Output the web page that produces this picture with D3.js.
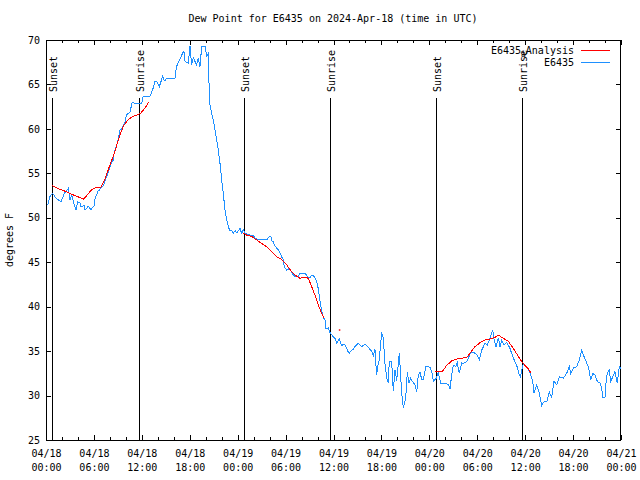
<!DOCTYPE html>
<html>
<head>
<meta charset="utf-8">
<script src="https://cdn.jsdelivr.net/npm/d3@7"></script>
<style>
  html, body { margin: 0; padding: 0; background: #fff; }
  svg { display: block; }
  text { font-family: "DejaVu Sans Mono", "Liberation Mono", monospace; font-size: 10px; fill: #000; }
</style>
</head>
<body>
<svg id="chart" width="640" height="480"></svg>
<script>
// ---------- DATA ----------
const titleText = "Dew Point for E6435 on 2024-Apr-18 (time in UTC)";
const yLabel = "degrees F";
const yTicks = [25, 30, 35, 40, 45, 50, 55, 60, 65, 70];
const xMajorHours = [0, 6, 12, 18, 24, 30, 36, 42, 48, 54, 60, 66, 72];
const xMinorHours = d3.range(0, 73, 2);

// observed series (hours since 2024-04-18 00:00 UTC, degrees F)
const obsHours = [0.21,0.50,0.84,1.25,1.88,2.29,2.59,2.79,3.01,3.22,3.54,3.76,3.97,4.26,4.38,4.80,4.88,5.01,5.30,5.42,5.60,6.05,6.14,6.26,6.55,6.67,6.97,7.10,7.39,7.73,8.14,8.43,8.55,8.85,8.98,9.27,9.39,9.80,9.89,10.10,10.52,10.77,10.86,11.36,11.98,12.18,13.02,13.36,13.65,13.86,14.06,14.19,14.61,14.78,14.90,15.11,16.15,16.34,16.78,17.19,17.28,17.41,17.82,18.03,18.24,18.44,18.87,19.07,19.28,19.50,19.91,20.12,20.32,20.47,20.75,20.95,21.16,21.37,21.58,21.79,22.00,22.20,22.41,22.63,22.83,23.04,23.25,23.45,23.67,23.88,24.29,24.50,24.71,24.92,25.13,25.55,25.96,26.17,26.38,27.21,27.63,27.96,28.14,28.26,28.46,28.68,29.09,29.52,29.72,29.84,30.14,30.47,30.77,30.97,31.18,31.59,31.80,32.43,32.64,32.85,33.06,33.27,33.47,33.68,33.90,34.10,34.31,34.52,34.72,34.94,35.06,35.35,35.56,35.98,36.18,36.39,36.72,37.02,37.31,37.43,37.85,37.97,38.27,38.47,38.69,39.10,39.53,39.94,40.36,40.78,40.98,41.19,41.40,41.60,41.73,42.03,42.23,42.45,42.66,42.86,42.98,43.28,43.49,43.70,43.91,44.24,44.54,44.74,44.95,45.08,45.24,45.45,45.67,45.87,46.21,46.42,46.62,46.83,47.04,47.24,47.58,48.08,48.30,48.50,48.84,49.12,49.42,49.96,50.38,50.59,50.80,51.00,51.34,51.50,51.75,52.05,52.25,52.68,52.88,53.13,53.47,53.93,54.26,54.56,54.97,55.26,55.60,55.94,56.10,56.35,56.64,56.85,57.06,57.35,57.69,58.10,58.44,58.73,59.01,59.27,59.42,59.57,59.77,60.15,60.40,60.61,60.94,61.11,61.44,61.77,62.07,62.36,62.70,63.02,63.32,63.61,63.95,64.27,64.77,65.20,65.52,65.70,66.03,66.45,66.78,67.08,67.37,67.62,67.91,68.21,68.46,68.75,69.03,69.37,69.58,69.71,70.00,70.12,70.28,70.54,70.71,70.96,71.25,71.54,71.79,72.0];
const obsValues = [51.4,52.4,52.75,52.2,51.8,52.75,53.1,53.3,52.0,52.6,51.4,50.9,51.8,51.7,51.25,51.4,50.9,50.95,51.3,51.2,50.9,51.4,52.2,52.4,53.1,53.1,53.5,53.5,54.1,55.0,56.1,56.5,57.4,58.2,58.55,59.9,59.9,60.6,60.8,61.6,61.9,62.9,62.95,62.8,62.9,63.7,63.7,64.4,65.4,65.3,65.0,64.75,65.9,65.5,65.4,65.7,65.7,67.0,67.9,68.65,68.7,67.6,67.4,69.3,67.2,68.0,67.2,68.0,67.0,69.3,69.3,68.2,68.5,63.0,61.75,61.0,59.9,58.75,57.6,56.1,54.25,52.75,50.9,49.75,49.0,48.5,48.6,48.25,48.55,48.3,48.8,48.25,48.7,48.3,48.2,48.05,48.05,47.7,47.6,47.6,47.5,47.9,47.95,47.4,47.3,46.8,46.4,45.6,45.25,44.5,44.1,44.3,43.9,43.55,43.4,43.4,43.75,43.75,43.55,43.2,43.3,43.55,43.55,43.2,42.8,42.0,40.6,39.6,38.8,38.5,37.5,37.6,37.1,36.6,36.45,35.9,36.4,35.6,35.8,35.7,34.9,34.75,35.1,35.2,35.5,35.9,35.5,35.8,35.4,35.0,34.5,35.2,32.3,33.6,34.0,37.1,36.5,33.5,32.0,31.4,33.85,33.85,30.5,32.9,31.7,34.75,30.25,28.6,29.3,30.25,32.6,31.4,31.95,31.6,31.2,30.4,32.3,32.6,31.85,31.85,33.25,33.2,32.7,31.6,31.9,32.6,31.4,31.4,31.2,30.8,32.3,33.4,33.3,33.7,32.5,33.7,33.6,33.8,34.2,34.75,34.9,34.6,34.0,35.1,35.9,35.7,36.45,37.4,36.4,35.5,36.5,35.5,36.25,35.7,36.0,35.3,34.4,33.8,33.2,32.3,32.1,32.9,33.6,33.25,32.9,32.5,31.6,30.25,31.2,30.25,28.9,29.3,29.3,30.4,29.8,31.6,31.2,32.1,31.95,32.5,33.25,32.5,33.1,33.25,34.0,35.1,34.4,33.85,33.25,31.75,32.5,32.3,31.6,31.4,30.8,29.8,29.8,31.4,32.5,32.9,31.6,32.1,32.7,31.4,33.25,33.0];

// analysis series (null = gap)
const anaHours = [0.79,1.47,2.50,3.34,4.17,4.67,5.01,5.64,6.26,6.89,7.18,7.43,7.93,8.55,9.18,9.68,10.23,10.86,11.48,11.90,12.52,12.84,
  null,
  24.71,25.13,25.76,26.38,27.01,27.63,28.26,28.89,29.52,30.14,30.77,31.18,31.80,32.43,32.85,33.27,33.68,34.10,34.52,34.81,
  null,
  48.71,49.65,50.18,50.80,51.43,52.05,52.68,53.09,53.72,54.35,54.97,55.60,56.22,56.64,57.26,57.89,58.52,59.01,59.57,59.98,60.48,60.73];
const anaValues = [53.6,53.3,52.95,52.6,52.3,52.1,52.4,53.1,53.4,53.45,54.0,54.45,55.75,57.25,59.1,60.3,61.0,61.4,61.6,61.8,62.5,63.05,
  null,
  48.3,48.05,47.9,47.5,47.1,46.75,46.2,45.6,45.3,44.7,43.9,43.55,43.2,43.3,43.2,42.25,41.3,40.2,39.25,38.7,
  null,
  32.75,32.75,33.4,33.9,34.1,34.2,34.3,34.75,35.5,35.95,36.25,36.35,36.55,36.8,36.45,36.1,35.3,34.6,33.8,33.4,32.9,32.5];
const anaDotHours = [36.73];
const anaDotValues = [37.4];

const sunLabels = ["Sunset", "Sunrise", "Sunset", "Sunrise", "Sunset", "Sunrise"];
const sunHours = [0.79, 11.68, 24.82, 35.58, 48.85, 59.6];

const legendNames = ["E6435", "E6435"];
const legendColors = ["#ff0000", "#1e90ff"];

// ---------- CHART ----------
const start = Date.UTC(2024, 3, 18, 0, 0);
const H = 3600 * 1000;
const toDate = h => new Date(start + h * H);

const svg = d3.select("#chart");
const L = 46, R = 621, T = 40, B = 440;

const x = d3.scaleUtc().domain([toDate(0), toDate(72)]).range([L, R]);
const y = d3.scaleLinear().domain([25, 70]).range([B, T]);

// title
svg.append("text").attr("x", 333).attr("y", 22).attr("text-anchor", "middle").text(titleText);

// y label
svg.append("text")
  .attr("transform", "translate(13,240) rotate(-90)")
  .attr("text-anchor", "middle").text(yLabel);

// bottom axis: minor ticks
svg.append("g").attr("transform", `translate(0,${B})`)
  .call(d3.axisBottom(x).tickValues(xMinorHours.map(toDate)).tickSizeInner(-3).tickSizeOuter(0).tickFormat(""))
  .call(g => g.select(".domain").remove());
// top axis: minor ticks
svg.append("g").attr("transform", `translate(0,${T})`)
  .call(d3.axisTop(x).tickValues(xMinorHours.map(toDate)).tickSizeInner(-3).tickSizeOuter(0).tickFormat(""))
  .call(g => g.select(".domain").remove());
// top major
svg.append("g").attr("transform", `translate(0,${T})`)
  .call(d3.axisTop(x).tickValues(xMajorHours.map(toDate)).tickSizeInner(-5).tickSizeOuter(0).tickFormat(""))
  .call(g => g.select(".domain").remove());

// bottom major with two-line labels
const f1 = d3.utcFormat("%m/%d"), f2 = d3.utcFormat("%H:%M");
const gxb = svg.append("g").attr("transform", `translate(0,${B})`)
  .call(d3.axisBottom(x).tickValues(xMajorHours.map(toDate)).tickSizeInner(-5).tickSizeOuter(0).tickPadding(10).tickFormat(f1))
  .call(g => g.select(".domain").remove());
gxb.selectAll(".tick text").each(function(d) {
  const t = d3.select(this);
  t.text(null);
  t.append("tspan").attr("x", 0).text(f1(d));
  t.append("tspan").attr("x", 0).attr("dy", 14).text(f2(d));
});
gxb.selectAll("text").style("font-family", "DejaVu Sans Mono").style("font-size", "10px");

// y axes
const gyl = svg.append("g").attr("transform", `translate(${L},0)`)
  .call(d3.axisLeft(y).tickValues(yTicks).tickSizeInner(-5).tickSizeOuter(0).tickPadding(6).tickFormat(d3.format("d")))
  .call(g => g.select(".domain").remove());
gyl.selectAll("text").style("font-family", "DejaVu Sans Mono").style("font-size", "10px");
svg.append("g").attr("transform", `translate(${R},0)`)
  .call(d3.axisRight(y).tickValues(yTicks).tickSizeInner(-5).tickSizeOuter(0).tickFormat(""))
  .call(g => g.select(".domain").remove());

svg.selectAll(".tick line").attr("stroke", "#000").attr("shape-rendering", "crispEdges");

// border
svg.append("rect").attr("x", L + 0.5).attr("y", T + 0.5).attr("width", R - L - 1).attr("height", B - T)
  .attr("fill", "none").attr("stroke", "#000").attr("shape-rendering", "crispEdges");

// sunrise / sunset lines
const sun = svg.append("g");
sunHours.forEach((h, i) => {
  const sx = Math.round(x(toDate(h))) + 0.5;
  sun.append("line").attr("x1", sx).attr("x2", sx).attr("y1", 98).attr("y2", B)
    .attr("stroke", "#000").attr("stroke-width", 1).attr("shape-rendering", "crispEdges");
  sun.append("text").attr("transform", `translate(${sx + 4},92) rotate(-90)`)
    .attr("text-anchor", "start").text(sunLabels[i]);
});

// lines
const obsData = obsHours.map((h, i) => ({ t: toDate(h), v: obsValues[i] }));
const anaData = anaHours.map((h, i) => ({ t: h == null ? null : toDate(h), v: anaValues[i] }));

const line = d3.line().defined(d => d.v != null).x(d => x(d.t)).y(d => y(d.v));

const plot = svg.append("g");
plot.append("path").datum(obsData).attr("d", line)
  .attr("fill", "none").attr("stroke", legendColors[1]).attr("stroke-width", 1)
  .attr("shape-rendering", "crispEdges");
plot.append("path").datum(anaData).attr("d", line)
  .attr("fill", "none").attr("stroke", legendColors[0]).attr("stroke-width", 1)
  .attr("shape-rendering", "crispEdges");
plot.selectAll("rect.dot").data(anaDotHours).enter().append("rect")
  .attr("class", "dot")
  .attr("x", (h) => x(toDate(h)) - 0.5).attr("y", (h, i) => y(anaDotValues[i]) - 0.5)
  .attr("width", 1.5).attr("height", 1.5).attr("fill", legendColors[0]);

// legend
const leg = svg.append("g");
[50, 62].forEach((ly, i) => {
  const t = leg.append("text").attr("x", 574).attr("y", ly + 4).attr("text-anchor", "end");
  if (i === 0) {
    t.append("tspan").text(legendNames[0]);
    t.append("tspan").attr("dy", 3).style("font-size", "8px").text("a");
    t.append("tspan").attr("dy", -3).text("Analysis");
  } else {
    t.text(legendNames[1]);
  }
  leg.append("line").attr("x1", 581).attr("x2", 610).attr("y1", ly + 0.5).attr("y2", ly + 0.5)
    .attr("stroke", legendColors[i]).attr("stroke-width", 1).attr("shape-rendering", "crispEdges");
});
</script>
</body>
</html>
